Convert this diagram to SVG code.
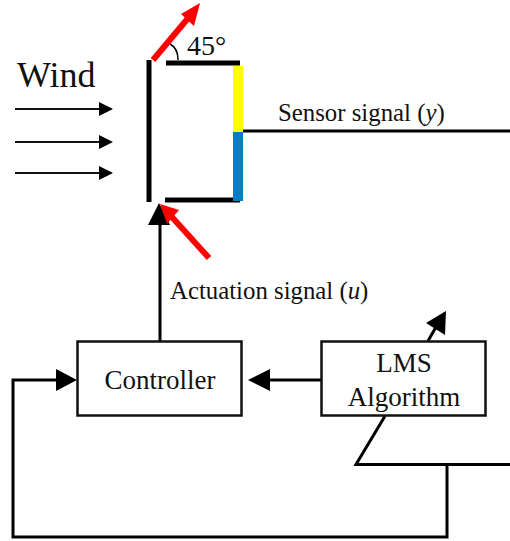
<svg xmlns="http://www.w3.org/2000/svg" width="510" height="541" viewBox="0 0 510 541">
<style>
text{font-family:"Liberation Serif","Times New Roman",serif;fill:#111}
.t{font-size:27px;text-anchor:middle}
.s{font-size:24.800px}
.box{fill:#fff;stroke:#111;stroke-width:2.500}
.w{fill:none;stroke:#000;stroke-width:3}
.th{fill:none;stroke:#000;stroke-width:5}
.win{fill:none;stroke:#111;stroke-width:2}
.a{fill:#000}
.r{fill:none;stroke:#f00;stroke-width:6}
</style>
<rect width="510" height="541" fill="#fff"/>
<g id="connectors">
<path class="w" d="M238 131H510"/>
<path class="w" d="M160 341V222"/>
<path class="w" d="M321 380H268"/>
<path class="w" d="M428 341L436 327"/>
<path class="w" d="M385 416L356 464.500H510"/>
<path class="w" d="M447 465V537H13V380H58"/>
<path class="win" d="M15 109H102M15 142H102M15 173H102"/>
<path class="a" d="M159 203L170 225H148Z"/>
<path class="a" d="M248 380L270 369V391Z"/>
<path class="a" d="M77 380L56 369V391Z"/>
<path class="a" d="M446 311L445 335L426 323Z"/>
<path class="a" d="M113 109L99 102V116Z"/>
<path class="a" d="M113 142L99 135V149Z"/>
<path class="a" d="M113 173L99 166V180Z"/>
</g>
<g id="wing">
<path class="th" d="M149 60V202"/>
<path class="th" d="M166 63H240"/>
<path class="th" d="M165 200H240"/>
<rect x="233" y="66" width="10" height="66" fill="#ff0"/>
<rect x="233" y="132" width="10" height="69" fill="#0a7cc4"/>
<path fill="none" stroke="#000" stroke-width="1.500" d="M170 44Q178 48 178 60"/>
</g>
<g id="red-arrows">
<path class="r" d="M153 60L189 17"/>
<path fill="#f00" d="M200 3L194 26L181 14Z"/>
<path class="r" d="M209 258L171 216"/>
<path fill="#f00" d="M160 204L179 210L167 224Z"/>
</g>
<g id="controller">
<rect class="box" x="77.500" y="341.500" width="164" height="74"/>
<text class="t" x="160" y="389">Controller</text>
</g>
<g id="lms">
<rect class="box" x="321.500" y="341.500" width="164" height="74"/>
<text class="t" x="404" y="372">LMS</text>
<text class="t" x="404" y="406">Algorithm</text>
</g>
<g id="labels">
<text x="17" y="87" font-size="36">Wind</text>
<text x="187" y="55" font-size="28">45°</text>
<text class="s" x="278" y="121">Sensor signal (<tspan font-style="italic">y</tspan>)</text>
<text class="s" x="170" y="299">Actuation signal (<tspan font-style="italic">u</tspan>)</text>
</g>
</svg>
